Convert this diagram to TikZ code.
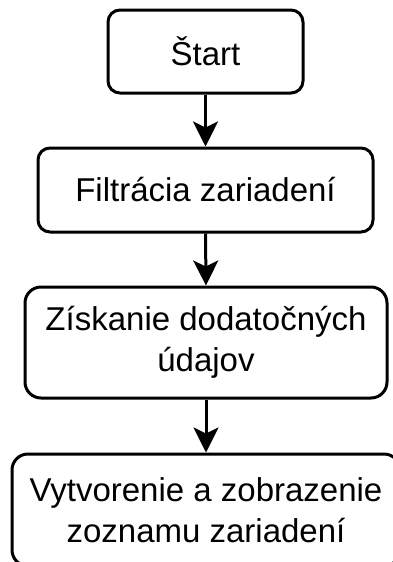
\documentclass[tikz,border=0pt]{standalone}
\usepackage{fontspec}
\setmainfont{Liberation Sans}
\usetikzlibrary{arrows.meta}
\begin{document}
\begin{tikzpicture}[x=1pt,y=-1pt,
  stepbox/.style={draw=black, line width=3pt, fill=white, rounded corners=#1,
    align=center, inner sep=0pt, font=\fontsize{33}{41}\selectfont},
  flow/.style={line width=3pt, -{Stealth[length=25pt,width=25pt,inset=6pt]}}]
\useasboundingbox (0,0) rectangle (393,562);
\clip (0,0) rectangle (393,562);
\node[stepbox=12pt, minimum width=195pt, minimum height=83pt] (s) at (205.5,51.5) {Štart};
\node[stepbox=12pt, minimum width=335pt, minimum height=84pt] (f) at (205.5,190) {Filtrácia zariadení};
\node[stepbox=16pt, minimum width=362pt, minimum height=111pt] (z) at (206,342.5) {Získanie dodatočných\\údajov};
\node[stepbox=16pt, minimum width=388pt, minimum height=112pt] (v) at (206,510) {Vytvorenie a zobrazenie\\zoznamu zariadení};
\draw[flow] (s.south) -- (f.north);
\draw[flow] (f.south) -- (z.north);
\draw[flow] (z.south) -- (v.north);
\end{tikzpicture}
\end{document}
